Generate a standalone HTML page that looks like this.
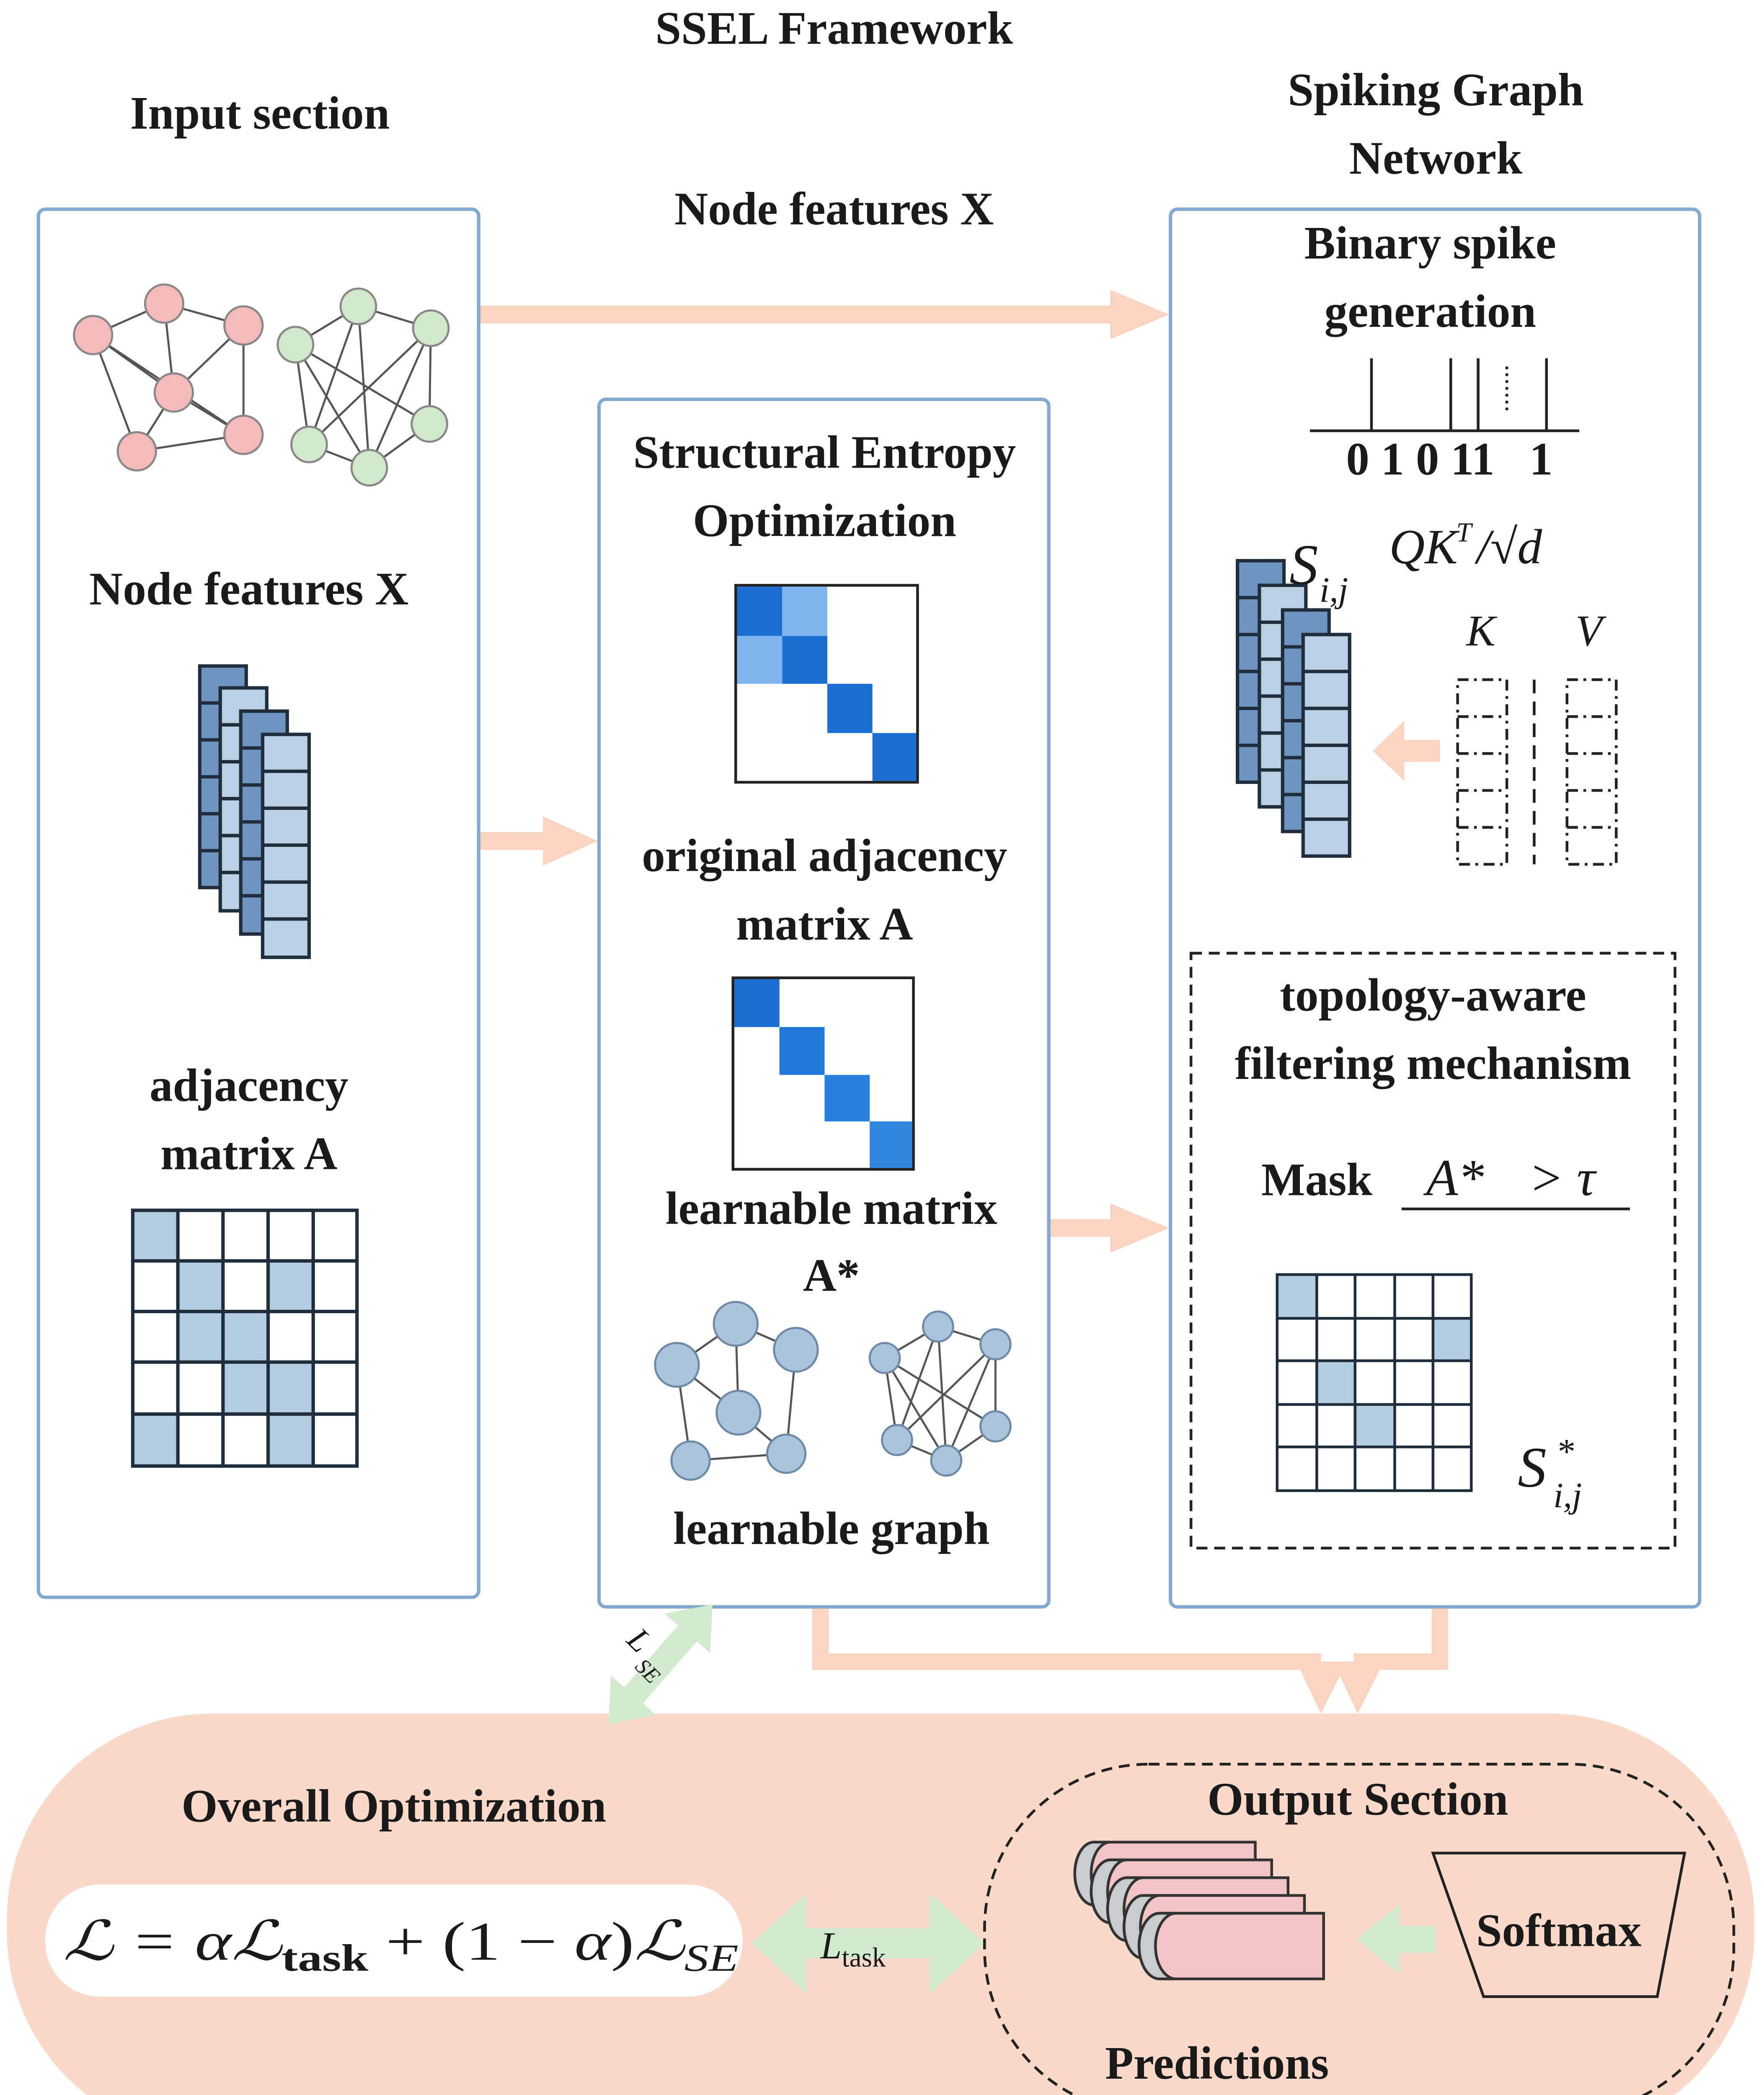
<!DOCTYPE html>
<html><head><meta charset="utf-8"><style>
html,body{margin:0;padding:0;background:#fff;overflow:hidden;width:4211px;height:5108px}
svg{display:block}
text{font-family:"Liberation Serif",serif;font-weight:bold;fill:#1a1a1a}
.it{font-style:italic;font-weight:normal}
</style></head><body>
<svg width="4211" height="5108" viewBox="0 0 1290 1565" xmlns="http://www.w3.org/2000/svg">
<rect width="1290" height="1565" fill="#fff"/>
<g font-size="34" text-anchor="middle">
<text x="610" y="32">SSEL Framework</text>
<text x="190" y="94">Input section</text>
<text x="1050" y="77">Spiking Graph</text>
<text x="1050" y="127">Network</text>
<text x="610" y="164">Node features X</text>
</g>
<rect x="5" y="1253" width="1278" height="310" rx="150" fill="#fbd9c9"/>
<path d="M600,1176 V1215 H966" fill="none" stroke="#fbd3c1" stroke-width="12"/>
<path d="M1053,1176 V1215 H990" fill="none" stroke="#fbd3c1" stroke-width="12"/>
<path d="M948,1215 L985,1215 L966,1253 Z M975,1215 L1012,1215 L993,1253 Z" fill="#fbd3c1"/>
<line x1="350" y1="230" x2="815" y2="230" stroke="#fbd3c1" stroke-width="13"/>
<path d="M812,212 L855,230 L812,248 Z" fill="#fbd3c1"/>
<line x1="350" y1="615" x2="400" y2="615" stroke="#fbd3c1" stroke-width="13"/>
<path d="M397,597 L437,615 L397,633 Z" fill="#fbd3c1"/>
<line x1="767" y1="898" x2="815" y2="898" stroke="#fbd3c1" stroke-width="13"/>
<path d="M812,880 L855,898 L812,916 Z" fill="#fbd3c1"/>
<rect x="28" y="153" width="322" height="1015" rx="5" fill="none" stroke="#84a9d0" stroke-width="2.5"/>
<rect x="438" y="292" width="329" height="883" rx="5" fill="#fff" stroke="#84a9d0" stroke-width="2.5"/>
<rect x="856" y="153" width="387" height="1022" rx="5" fill="none" stroke="#84a9d0" stroke-width="2.5"/>
<g stroke="#555" stroke-width="1.5" fill="none">
<path d="M68,245 L120,222 L178,238 L178,318 L100,330 L68,245 M68,245 L127,287 L178,238 M120,222 L127,287 M100,330 L127,287 L178,318 M68,245 L178,318"/>
<path d="M216,252 L262,224 L315,240 L314,310 L270,342 L226,325 L216,252 M216,252 L314,310 M262,224 L270,342 M262,224 L226,325 M315,240 L226,325 M216,252 L270,342 M315,240 L270,342"/>
</g>
<g fill="#f4b9b9" stroke="#888" stroke-width="1.5">
<circle cx="68" cy="245" r="14"/><circle cx="120" cy="222" r="14"/><circle cx="178" cy="238" r="14"/><circle cx="127" cy="287" r="14"/><circle cx="100" cy="330" r="14"/><circle cx="178" cy="318" r="14"/>
</g>
<g fill="#d2e8cb" stroke="#888" stroke-width="1.5">
<circle cx="216" cy="252" r="13"/><circle cx="262" cy="224" r="13"/><circle cx="315" cy="240" r="13"/><circle cx="314" cy="310" r="13"/><circle cx="270" cy="342" r="13"/><circle cx="226" cy="325" r="13"/>
</g>
<text x="182" y="442" font-size="34" text-anchor="middle">Node features X</text>
<g stroke="#1f2d3d" stroke-width="2.5">
<g fill="#6e95c0"><rect x="146" y="487" width="34" height="162"/><line x1="146" y1="514" x2="180" y2="514"/><line x1="146" y1="541" x2="180" y2="541"/><line x1="146" y1="568" x2="180" y2="568"/><line x1="146" y1="595" x2="180" y2="595"/><line x1="146" y1="622" x2="180" y2="622"/></g>
<g fill="#b8d0e2"><rect x="161" y="503" width="34" height="163"/><line x1="161" y1="530" x2="195" y2="530"/><line x1="161" y1="557" x2="195" y2="557"/><line x1="161" y1="584" x2="195" y2="584"/><line x1="161" y1="611" x2="195" y2="611"/><line x1="161" y1="638" x2="195" y2="638"/></g>
<g fill="#6e95c0"><rect x="176" y="520" width="34" height="163"/><line x1="176" y1="547" x2="210" y2="547"/><line x1="176" y1="574" x2="210" y2="574"/><line x1="176" y1="601" x2="210" y2="601"/><line x1="176" y1="628" x2="210" y2="628"/><line x1="176" y1="655" x2="210" y2="655"/></g>
<g fill="#b8d0e2"><rect x="192" y="537" width="34" height="163"/><line x1="192" y1="564" x2="226" y2="564"/><line x1="192" y1="591" x2="226" y2="591"/><line x1="192" y1="618" x2="226" y2="618"/><line x1="192" y1="645" x2="226" y2="645"/><line x1="192" y1="672" x2="226" y2="672"/></g>
</g>
<text x="182" y="805" font-size="34" text-anchor="middle">adjacency</text>
<text x="182" y="855" font-size="34" text-anchor="middle">matrix A</text>
<g fill="#b3cde0">
<rect x="97" y="885" width="33" height="37"/>
<rect x="130" y="922" width="33" height="37"/><rect x="196" y="922" width="33" height="37"/>
<rect x="130" y="959" width="33" height="37"/><rect x="163" y="959" width="33" height="37"/>
<rect x="163" y="996" width="33" height="38"/><rect x="196" y="996" width="33" height="38"/>
<rect x="97" y="1034" width="33" height="38"/><rect x="196" y="1034" width="33" height="38"/>
</g>
<g stroke="#1f2d3d" stroke-width="2.5" fill="none">
<rect x="97" y="885" width="164" height="187"/>
<path d="M130,885V1072M163,885V1072M196,885V1072M229,885V1072M97,922H261M97,959H261M97,996H261M97,1034H261"/>
</g>
<g font-size="34" text-anchor="middle">
<text x="603" y="342">Structural Entropy</text>
<text x="603" y="392">Optimization</text>
<text x="603" y="637">original adjacency</text>
<text x="603" y="687">matrix A</text>
<text x="608" y="895">learnable matrix</text>
<text x="608" y="944">A*</text>
<text x="608" y="1129">learnable graph</text>
</g>
<rect x="538" y="428" width="133" height="144" fill="#fff" stroke="#222" stroke-width="2"/>
<rect x="539" y="429" width="33" height="36" fill="#1a6fd0"/>
<rect x="572" y="429" width="33" height="36" fill="#7fb5ee"/>
<rect x="539" y="465" width="33" height="35" fill="#7fb5ee"/>
<rect x="572" y="465" width="33" height="35" fill="#1a6fd0"/>
<rect x="605" y="500" width="33" height="36" fill="#1a6fd0"/>
<rect x="638" y="536" width="32" height="35" fill="#1a6fd0"/>
<rect x="536" y="715" width="132" height="140" fill="#fff" stroke="#222" stroke-width="2"/>
<rect x="537" y="716" width="33" height="35" fill="#1a6fd0"/>
<rect x="570" y="751" width="33" height="35" fill="#1f78d8"/>
<rect x="603" y="786" width="33" height="34" fill="#2580dc"/>
<rect x="636" y="820" width="31" height="34" fill="#2f86de"/>
<g stroke="#555" stroke-width="1.5" fill="none">
<path d="M495,998 L538,968 L582,987 L575,1063 L505,1068 L495,998 M538,968 L540,1033 M495,998 L540,1033 L575,1063 M505,1068 L575,1063"/>
<path d="M647,993 L686,970 L728,983 L728,1043 L692,1068 L656,1053 L647,993 M686,970 L692,1068 M686,970 L656,1053 M647,993 L728,1043 M728,983 L656,1053 M647,993 L692,1068 M728,983 L692,1068"/>
</g>
<g fill="#aac4dd" stroke="#6f8aa6" stroke-width="1.5">
<circle cx="495" cy="998" r="16"/><circle cx="538" cy="968" r="16"/><circle cx="582" cy="987" r="16"/><circle cx="540" cy="1033" r="16"/><circle cx="505" cy="1068" r="14"/><circle cx="575" cy="1063" r="14"/>
<circle cx="647" cy="993" r="11"/><circle cx="686" cy="970" r="11"/><circle cx="728" cy="983" r="11"/><circle cx="728" cy="1043" r="11"/><circle cx="692" cy="1068" r="11"/><circle cx="656" cy="1053" r="11"/>
</g>
<g font-size="34" text-anchor="middle">
<text x="1046" y="189">Binary spike</text>
<text x="1046" y="239">generation</text>
<text x="1060" y="347">0 1 0 11&#160;&#160;&#160;1</text>
<text x="1048" y="739">topology-aware</text>
<text x="1048" y="789">filtering mechanism</text>
<text x="963" y="874">Mask</text>
</g>
<g stroke="#222" stroke-width="2">
<line x1="958" y1="315" x2="1155" y2="315"/>
<line x1="1003" y1="262" x2="1003" y2="315"/><line x1="1061" y1="262" x2="1061" y2="315"/><line x1="1081" y1="262" x2="1081" y2="315"/><line x1="1131" y1="262" x2="1131" y2="315"/>
<line x1="1102" y1="268" x2="1102" y2="300" stroke-dasharray="2,3"/>
</g>
<g stroke="#1f2d3d" stroke-width="2.5">
<g fill="#6e95c0"><rect x="905" y="410" width="34" height="162"/><line x1="905" y1="437" x2="939" y2="437"/><line x1="905" y1="464" x2="939" y2="464"/><line x1="905" y1="491" x2="939" y2="491"/><line x1="905" y1="518" x2="939" y2="518"/><line x1="905" y1="545" x2="939" y2="545"/></g>
<g fill="#b8d0e2"><rect x="921" y="428" width="34" height="162"/><line x1="921" y1="455" x2="955" y2="455"/><line x1="921" y1="482" x2="955" y2="482"/><line x1="921" y1="509" x2="955" y2="509"/><line x1="921" y1="536" x2="955" y2="536"/><line x1="921" y1="563" x2="955" y2="563"/></g>
<g fill="#6e95c0"><rect x="938" y="446" width="34" height="162"/><line x1="938" y1="473" x2="972" y2="473"/><line x1="938" y1="500" x2="972" y2="500"/><line x1="938" y1="527" x2="972" y2="527"/><line x1="938" y1="554" x2="972" y2="554"/><line x1="938" y1="581" x2="972" y2="581"/></g>
<g fill="#b8d0e2"><rect x="953" y="464" width="34" height="162"/><line x1="953" y1="491" x2="987" y2="491"/><line x1="953" y1="518" x2="987" y2="518"/><line x1="953" y1="545" x2="987" y2="545"/><line x1="953" y1="572" x2="987" y2="572"/><line x1="953" y1="599" x2="987" y2="599"/></g>
</g>
<text x="943" y="427" class="it" font-size="42">S</text>
<text x="965" y="440" class="it" font-size="26">i,j</text>
<text x="1016" y="412" class="it" font-size="36">QK</text>
<text x="1065" y="396" class="it" font-size="20">T</text>
<text x="1080" y="412" class="it" font-size="36">/√d</text>
<text x="1083" y="472" class="it" font-size="32" text-anchor="middle">K</text>
<text x="1162" y="472" class="it" font-size="32" text-anchor="middle">V</text>
<g stroke="#222" stroke-width="2" fill="none" stroke-dasharray="8,4,2,4">
<rect x="1066" y="497" width="36" height="135"/><rect x="1146" y="497" width="36" height="135"/>
<path d="M1066,551H1102M1066,578H1102M1066,605H1102M1146,551H1182M1146,578H1182M1146,605H1182M1066,524H1102M1146,524H1182"/>
</g>
<line x1="1122" y1="497" x2="1122" y2="632" stroke="#222" stroke-width="2" stroke-dasharray="10,6"/>
<rect x="1025" y="541" width="28" height="16" fill="#fbd3c1"/>
<path d="M1027,527 L1004,549 L1027,571 Z" fill="#fbd3c1"/>
<rect x="871" y="697" width="354" height="435" fill="none" stroke="#222" stroke-width="2" stroke-dasharray="8,5"/>
<text x="1043" y="874" class="it" font-size="38">A*</text>
<text x="1118" y="874" class="it" font-size="38">&gt; τ</text>
<line x1="1025" y1="884" x2="1192" y2="884" stroke="#222" stroke-width="2"/>
<g fill="#b3cde0">
<rect x="934" y="932" width="29" height="32"/><rect x="1048" y="964" width="28" height="31"/><rect x="963" y="995" width="28" height="32"/><rect x="991" y="1027" width="29" height="31"/>
</g>
<g stroke="#1f2d3d" stroke-width="2" fill="none">
<rect x="934" y="932" width="142" height="158"/>
<path d="M963,932V1090M991,932V1090M1020,932V1090M1048,932V1090M934,964H1076M934,995H1076M934,1027H1076M934,1058H1076"/>
</g>
<text x="1110" y="1087" class="it" font-size="42">S</text>
<text x="1138" y="1070" class="it" font-size="26">*</text>
<text x="1136" y="1102" class="it" font-size="26">i,j</text>
<g transform="translate(483,1217) rotate(-49)">
<rect x="-32" y="-9" width="64" height="18" fill="#d3e9d0"/>
<path d="M-30,-22 L-58,0 L-30,22 Z M30,-22 L58,0 L30,22 Z" fill="#d3e9d0"/>
</g>
<text x="452" y="1213" class="it" font-size="24" transform="rotate(45 470 1213)">L</text>
<text x="470" y="1222" class="it" font-size="16" transform="rotate(45 470 1213)">SE</text>
<text x="288" y="1332" font-size="34" text-anchor="middle">Overall Optimization</text>
<rect x="33" y="1378" width="510" height="82" rx="40" fill="#fff"/>
<text x="46" y="1433" font-size="40" class="it" textLength="494" lengthAdjust="spacingAndGlyphs">ℒ = αℒ<tspan font-size="28" font-style="normal" font-weight="bold" dy="8">task</tspan><tspan dy="-8" font-style="normal"> + (1 − </tspan>α<tspan font-style="normal">)</tspan>ℒ<tspan font-size="28" dy="8">SE</tspan></text>
<rect x="585" y="1410" width="100" height="22" fill="#d3e9d0"/>
<path d="M590,1384 L550,1421 L590,1458 Z M680,1384 L720,1421 L680,1458 Z" fill="#d3e9d0"/>
<text x="600" y="1432" class="it" font-size="28">L<tspan font-size="20" font-style="normal" dy="6">task</tspan></text>
<rect x="720" y="1290" width="548" height="255" rx="120" fill="none" stroke="#222" stroke-width="2" stroke-dasharray="8,5"/>
<text x="993" y="1327" font-size="34" text-anchor="middle">Output Section</text>
<text x="890" y="1520" font-size="34" text-anchor="middle">Predictions</text>
<g stroke="#333" stroke-width="2">
<g><path d="M800,1347 H918 V1393 H800 A14,23 0 0 1 800,1347 Z" fill="#f2c4c4"/><path d="M800,1347 A14,23 0 0 0 800,1393 H812 A14,23 0 0 1 812,1347 Z" fill="#c8ccce"/></g>
<g><path d="M812,1360 H930 V1406 H812 A14,23 0 0 1 812,1360 Z" fill="#f2c4c4"/><path d="M812,1360 A14,23 0 0 0 812,1406 H824 A14,23 0 0 1 824,1360 Z" fill="#c8ccce"/></g>
<g><path d="M824,1373 H942 V1419 H824 A14,23 0 0 1 824,1373 Z" fill="#f2c4c4"/><path d="M824,1373 A14,23 0 0 0 824,1419 H836 A14,23 0 0 1 836,1373 Z" fill="#c8ccce"/></g>
<g><path d="M836,1386 H954 V1432 H836 A14,23 0 0 1 836,1386 Z" fill="#f2c4c4"/><path d="M836,1386 A14,23 0 0 0 836,1432 H848 A14,23 0 0 1 848,1386 Z" fill="#c8ccce"/></g>
<g><path d="M848,1399 H968 V1447 H848 A15,24 0 0 1 848,1399 Z" fill="#f2c4c4"/><path d="M848,1399 A15,24 0 0 0 848,1447 H860 A15,24 0 0 1 860,1399 Z" fill="#c8ccce"/></g>
</g>
<rect x="1022" y="1408" width="28" height="20" fill="#d3e9d0"/>
<path d="M1024,1392 L992,1418 L1024,1444 Z" fill="#d3e9d0"/>
<path d="M1048,1355 L1232,1355 L1212,1460 L1085,1460 Z" fill="#fbd9c9" stroke="#222" stroke-width="2"/>
<text x="1140" y="1423" font-size="34" text-anchor="middle">Softmax</text>
</svg>
</body></html>
